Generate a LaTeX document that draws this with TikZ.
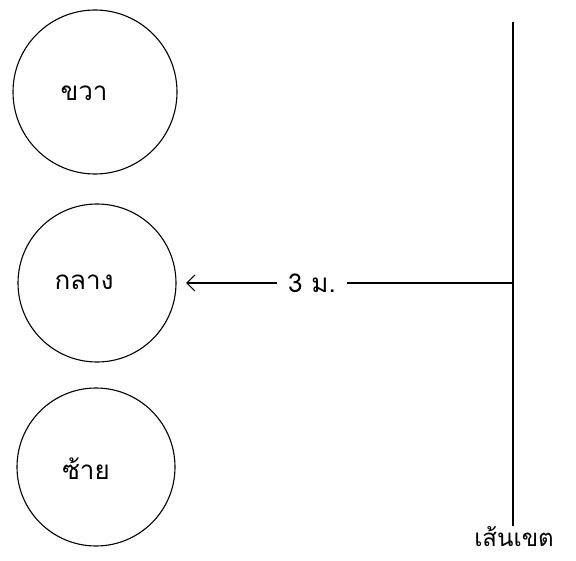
\documentclass[tikz,border=0pt]{standalone}
\usepackage{fontspec}
\newfontfamily\thaifont[Script=Thai]{Loma}
\usetikzlibrary{arrows.meta}
\begin{document}
\begin{tikzpicture}[x=1pt,y=-1pt,
  ring/.style={draw,circle,line width=1.1pt,minimum size=#1,inner sep=0pt},
  lbl/.style={font=\thaifont\fontsize{26}{28}\selectfont,inner sep=1pt},
  ln/.style={line width=1.2pt}]
\useasboundingbox[fill=white] (0,0) rectangle (576,561);
\node[ring=164pt] (c1) at (95,92) {};
\node[ring=158pt] (c2) at (97,283) {};
\node[ring=158pt] (c3) at (96,467) {};
\node[lbl] (t1) at (84,93) {ขวา};
\node[lbl] (t2) at (84,282) {กลาง};
\node[lbl] (t3) at (86,469) {ซ้าย};
\node[lbl,inner xsep=11pt] (dist) at (312,283) {3 ม.};
\coordinate (top) at (513,22);
\coordinate (bot) at (513,526);
\coordinate (meet) at (513,283);
\coordinate (tip) at (186,283);
\node[lbl,font=\thaifont\fontsize{24}{26}\selectfont,anchor=base,inner sep=0pt] (edge) at (514,546) {เส้นเขต};
\draw[ln] (top) -- (bot);
\draw[ln] (meet) -- (dist.east);
\draw[ln,-{Straight Barb[length=8pt,width=16pt,line width=1.2pt]}] (dist.west) -- (tip);
\end{tikzpicture}
\end{document}
